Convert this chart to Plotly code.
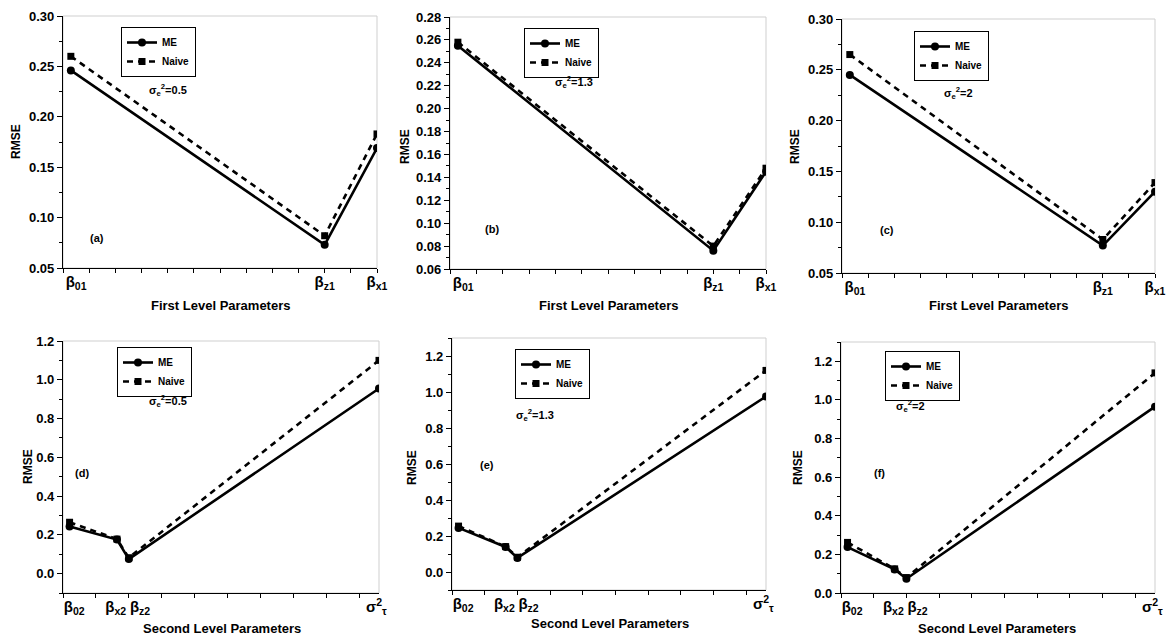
import plotly.graph_objects as go

W, H = 1167, 637

# ---------------- data ----------------
FIRST_LEVEL = ["β<sub>01</sub>", "β<sub>z1</sub>", "β<sub>x1</sub>"]
SECOND_LEVEL = ["β<sub>02</sub>", "β<sub>x2</sub>", "β<sub>z2</sub>", "σ<sup>2</sup><sub>τ</sub>"]
FIRST_POS = [0.15, 5.0, 6.0]
SECOND_POS = [0.1, 0.82, 1.0, 4.8]

ME_A = [0.246, 0.073, 0.169]
NAIVE_A = [0.260, 0.082, 0.183]
ME_B = [0.255, 0.076, 0.145]
NAIVE_B = [0.258, 0.080, 0.148]
ME_C = [0.245, 0.077, 0.130]
NAIVE_C = [0.265, 0.083, 0.139]
ME_D = [0.243, 0.176, 0.075, 0.955]
NAIVE_D = [0.265, 0.178, 0.082, 1.100]
ME_E = [0.245, 0.139, 0.078, 0.975]
NAIVE_E = [0.255, 0.141, 0.082, 1.120]
ME_F = [0.238, 0.122, 0.074, 0.965]
NAIVE_F = [0.262, 0.125, 0.080, 1.140]

SIGMA_E = ["0.5", "1.3", "2", "0.5", "1.3", "2"]
PANEL_TAGS = ["(a)", "(b)", "(c)", "(d)", "(e)", "(f)"]
X_TITLES = ["First Level Parameters"] * 3 + ["Second Level Parameters"] * 3

# ---------------- layout constants ----------------
FIRST_TICK_POS = [0.25, 5.0, 6.0]
SECOND_TICK_POS = [0.17, 0.8, 1.17, 4.76]

panels = [
    dict(box=(63, 377, 16, 268), xr=[0, 6], yr=[0.05, 0.30], dt=0.05, me=ME_A, nv=NAIVE_A,
         leg=(121, 27), sig=(168, 90), tag=(97, 238), ytit=(16, 142), xtit=(220, 305)),
    dict(box=(450, 766, 17, 269), xr=[0, 6], yr=[0.06, 0.28], dt=0.02, me=ME_B, nv=NAIVE_B,
         leg=(524, 28), sig=(574, 82), tag=(492, 229), ytit=(405, 147), xtit=(608, 305)),
    dict(box=(842, 1155, 19, 273), xr=[0, 6], yr=[0.05, 0.30], dt=0.05, me=ME_C, nv=NAIVE_C,
         leg=(914, 31), sig=(958, 93), tag=(887, 230), ytit=(795, 147), xtit=(998, 305)),
    dict(box=(63, 379, 341, 593), xr=[0, 4.8], yr=[-0.1, 1.2], dt=0.2, me=ME_D, nv=NAIVE_D,
         leg=(117, 347), sig=(168, 401), tag=(82, 473), ytit=(28, 467), xtit=(222, 628)),
    dict(box=(452, 766, 338, 590), xr=[0, 4.8], yr=[-0.1, 1.3], dt=0.2, me=ME_E, nv=NAIVE_E,
         leg=(515, 349), sig=(535, 415), tag=(487, 465), ytit=(412, 467), xtit=(610, 623)),
    dict(box=(841, 1155, 342, 593), xr=[0, 4.8], yr=[0.0, 1.3], dt=0.2, me=ME_F, nv=NAIVE_F,
         leg=(885, 351), sig=(910, 406), tag=(879, 473), ytit=(798, 468), xtit=(997, 628)),
]

FONT = "Liberation Sans, Arial, sans-serif"
fig = go.Figure()
annotations = []
shapes = []
layout = dict(
    width=W, height=H, margin=dict(l=0, r=0, t=0, b=0),
    paper_bgcolor="white", plot_bgcolor="white",
    font=dict(family=FONT, color="black"),
    showlegend=True,
)


def ann(x, y, text, size, angle=0):
    return dict(x=x / W, y=1 - y / H, xref="paper", yref="paper", text=text,
                showarrow=False, xanchor="center", yanchor="middle", textangle=angle,
                font=dict(family=FONT, size=size, weight="bold", color="black"))


for i, p in enumerate(panels):
    n = i + 1
    sfx = "" if n == 1 else str(n)
    l, r, t, b = p["box"]
    first = i < 3
    xs = FIRST_POS if first else SECOND_POS
    labels = FIRST_LEVEL if first else SECOND_LEVEL
    tickpos = FIRST_TICK_POS if first else SECOND_TICK_POS
    legname = "legend" + sfx

    fig.add_trace(go.Scatter(
        x=xs, y=p["me"], name="ME", mode="lines+markers",
        line=dict(color="black", width=2.6),
        marker=dict(symbol="circle", size=8, color="black"),
        xaxis="x" + sfx, yaxis="y" + sfx, legend=legname,
    ))
    fig.add_trace(go.Scatter(
        x=xs, y=p["nv"], name="Naive", mode="lines+markers",
        line=dict(color="black", width=2.6, dash="6px,5px"),
        marker=dict(symbol="square", size=7, color="black"),
        xaxis="x" + sfx, yaxis="y" + sfx, legend=legname,
    ))

    xmax = p["xr"][1]
    minor_vals = [k * 0.5 for k in range(int(round(xmax / 0.5)) + 1)]
    layout["xaxis" + sfx] = dict(
        domain=[l / W, r / W], anchor="y" + sfx, range=p["xr"],
        tickmode="array", tickvals=tickpos, ticktext=labels,
        ticks="", ticklen=4, showgrid=False, zeroline=False,
        showline=True, linecolor="black", linewidth=1.3,
        tickfont=dict(family=FONT, size=15, weight="bold", color="black"),
        minor=dict(tickmode="array", tickvals=minor_vals, ticks="outside",
                   ticklen=4, tickcolor="black", tickwidth=1, showgrid=False),
        automargin=False, fixedrange=True,
    )
    layout["yaxis" + sfx] = dict(
        domain=[1 - b / H, 1 - t / H], anchor="x" + sfx, range=p["yr"],
        tickmode="linear", tick0=0, dtick=p["dt"], tickformat=".2f" if first else ".1f",
        ticks="outside", ticklen=5, tickwidth=1, tickcolor="black",
        minor=dict(dtick=p["dt"] / 2, tick0=0, ticks="outside", ticklen=3,
                   tickcolor="black", showgrid=False),
        showgrid=False, zeroline=False,
        showline=True, linecolor="black", linewidth=1.3,
        tickfont=dict(family=FONT, size=13, weight="bold", color="black"),
        automargin=False, fixedrange=True,
    )
    layout[legname] = dict(
        x=p["leg"][0] / W, y=1 - p["leg"][1] / H, xanchor="left", yanchor="top",
        bordercolor="black", borderwidth=1, bgcolor="rgba(255,255,255,0)",
        font=dict(family=FONT, size=10, weight="bold", color="black"),
        tracegroupgap=0, itemwidth=30,
    )
    shapes.append(dict(type="rect", xref="x" + sfx + " domain", yref="y" + sfx + " domain",
                       x0=0, x1=1, y0=0, y1=1, line=dict(color="#cfcfcf", width=1),
                       layer="below"))
    annotations.append(ann(p["sig"][0], p["sig"][1],
                           "σ<sub>e</sub><sup>2</sup>=" + SIGMA_E[i], 11))
    annotations.append(ann(p["tag"][0], p["tag"][1], PANEL_TAGS[i], 11))
    annotations.append(ann(p["ytit"][0], p["ytit"][1], "RMSE", 12, -90))
    annotations.append(ann(p["xtit"][0], p["xtit"][1], X_TITLES[i], 13))

layout["annotations"] = annotations
layout["shapes"] = shapes
fig.update_layout(**layout)
fig.write_html(
    "out.html",
    config={"displayModeBar": False},
    post_script="document.body.style.margin='0px';document.body.style.overflow='hidden';",
)
